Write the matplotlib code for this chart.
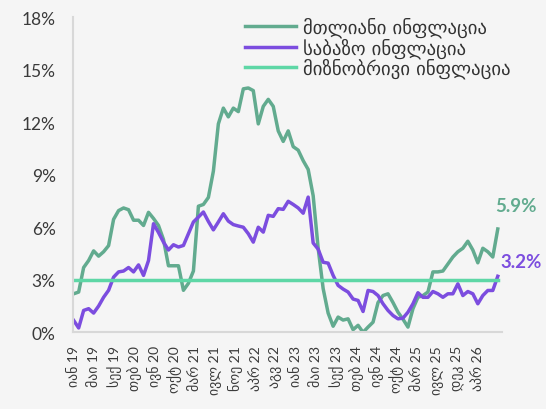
import numpy as np
import matplotlib
matplotlib.use("Agg")
import matplotlib.pyplot as plt

plt.rcParams['font.family'] = ['Lato', 'DejaVu Sans']

# headline and core inflation, % y/y
headline = [2.2, 2.3, 3.7, 4.1, 4.65, 4.35, 4.6, 4.95, 6.45, 6.95,
            7.1, 7.0, 6.4, 6.4, 6.1, 6.85, 6.5, 6.1, 5.3, 3.8,
            3.8, 3.8, 2.4, 2.8, 3.5, 7.2, 7.3, 7.7, 9.2, 11.9,
            12.8, 12.3, 12.8, 12.6, 13.9, 13.95, 13.8, 11.9, 12.9, 13.3,
            12.9, 11.5, 10.9, 11.5, 10.6, 10.4, 9.8, 9.3, 7.8, 4.8,
            2.5, 1.1, 0.35, 0.87, 0.7, 0.77, 0.15, 0.4, 0.0, 0.3,
            0.58, 1.7, 2.1, 2.2, 1.7, 1.15, 0.75, 0.3, 1.35, 2.0,
            2.1, 2.3, 3.45, 3.45, 3.5, 3.9, 4.3, 4.6, 4.8, 5.2,
            4.7, 3.97, 4.8, 4.6, 4.3, 5.9]
core = [0.68, 0.25, 1.25, 1.35, 1.1, 1.5, 2.0, 2.4, 3.15, 3.45,
        3.5, 3.7, 3.45, 3.85, 3.25, 4.1, 6.2, 5.7, 5.15, 4.7,
        5.0, 4.87, 4.96, 5.63, 6.3, 6.58, 6.87, 6.33, 5.85, 6.3,
        6.77, 6.35, 6.15, 6.07, 6.0, 5.63, 5.15, 6.0, 5.72, 6.68,
        6.62, 7.06, 7.02, 7.48, 7.3, 7.1, 6.8, 7.72, 5.1, 4.75,
        4.0, 3.95, 3.25, 2.68, 2.47, 2.3, 1.9, 1.82, 1.19, 2.39,
        2.33, 2.1, 1.63, 1.25, 0.96, 0.77, 0.81, 1.15, 1.63, 2.26,
        2.0, 2.0, 2.33, 2.2, 2.0, 2.2, 2.2, 2.77, 2.1, 2.33,
        2.2, 1.63, 2.1, 2.39, 2.39, 3.2]
target = 3.0

tick_labels = ['იან 19', 'მაი 19', 'სექ 19', 'თებ 20', 'ივნ 20', 'ოქტ 20',
               'მარ 21', 'ივლ 21', 'ნოე 21', 'აპრ 22', 'აგვ 22', 'იან 23',
               'მაი 23', 'სექ 23', 'თებ 24', 'ივნ 24', 'ოქტ 24', 'მარ 25',
               'ივლ 25', 'დეკ 25', 'აპრ 26']
y_ticks = [0, 3, 6, 9, 12, 15, 18]

names = ['მთლიანი ინფლაცია', 'საბაზო ინფლაცია', 'მიზნობრივი ინფლაცია']
c_head = '#62ab8f'
c_core = '#7c4ddf'
c_target = '#5ed7a6'
bg = '#f5f5f5'

x = np.arange(len(headline))

fig = plt.figure(figsize=(5.46, 4.10), dpi=100, facecolor=bg)
ax = fig.add_axes([0.134, 0.187, 0.785, 0.769], facecolor=bg)

ax.plot(x, headline, color=c_head, lw=2.5, label=names[0], solid_joinstyle='round')
ax.plot(x, core, color=c_core, lw=2.5, label=names[1], solid_joinstyle='round')
ax.plot([x[0], x[-1]], [target, target], color=c_target, lw=2.5, label=names[2])

ax.set_xlim(-0.1, 85.8)
ax.set_ylim(0, 18)
ax.set_yticks(y_ticks)
ax.set_yticklabels([f'{v}%' for v in y_ticks])
ax.set_xticks(np.linspace(0, 81, len(tick_labels)))
ax.set_xticklabels(tick_labels, rotation=90)
ax.tick_params(axis='y', length=0, pad=12.5, labelsize=12.5, labelcolor='#3a3a3a')
ax.tick_params(axis='x', length=0, pad=9, labelsize=10, labelcolor='#3a3a3a')

for s in ['top', 'right']:
    ax.spines[s].set_visible(False)
for s in ['left', 'bottom']:
    ax.spines[s].set_color('#d8d8d8')
    ax.spines[s].set_linewidth(1.5)

# end labels
ax.annotate(f'{headline[-1]}%', xy=(x[-1], headline[-1]), xytext=(-2, 17),
            textcoords='offset points', color=c_head, fontsize=13.5,
            fontweight='bold', ha='left', va='center')
ax.annotate(f'{core[-1]}%', xy=(x[-1], core[-1]), xytext=(2, 11),
            textcoords='offset points', color=c_core, fontsize=13.5,
            fontweight='bold', ha='left', va='center')

fig.legend(loc='upper left', bbox_to_anchor=(0.449, 0.957), frameon=False,
           prop={'family': ['DejaVu Sans'], 'size': 13.5},
           handlelength=2.7, handletextpad=0.4,
           labelspacing=0.0, borderpad=0, borderaxespad=0,
           labelcolor='#333333')

fig.savefig('out.png', dpi=100, facecolor=bg)
